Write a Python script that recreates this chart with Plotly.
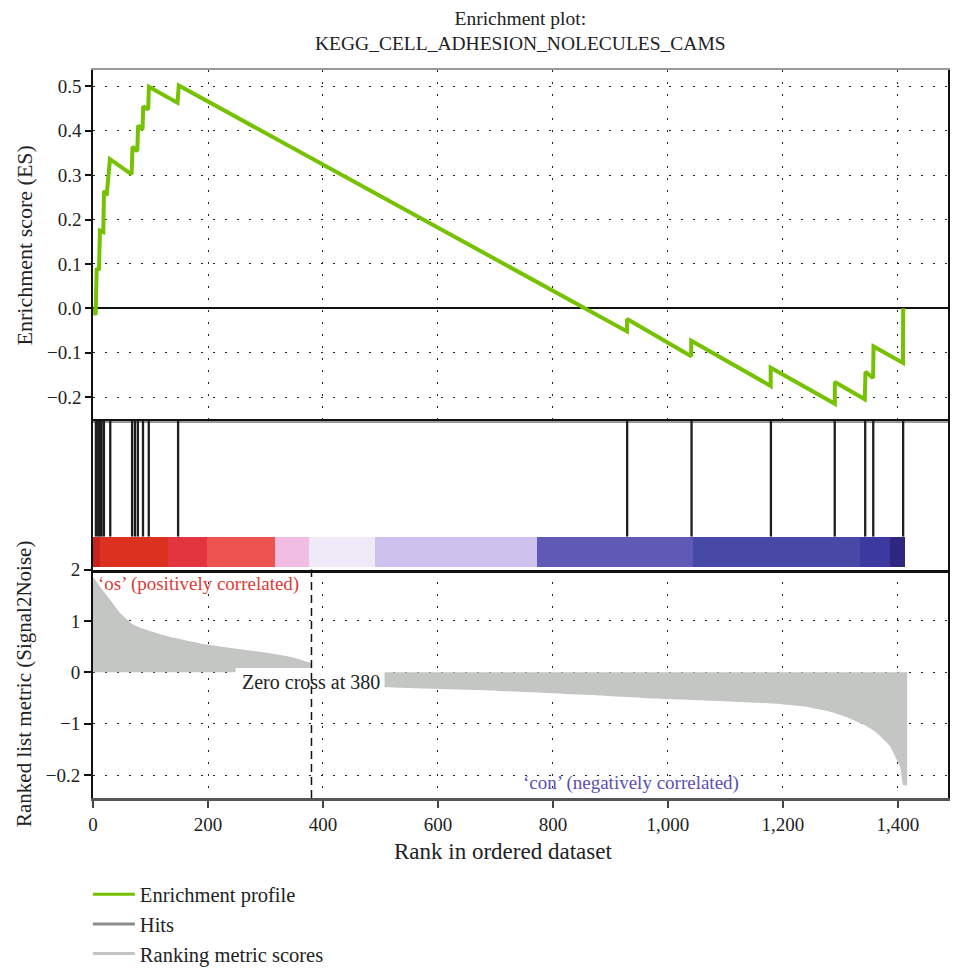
import plotly.graph_objects as go

# ---- data -------------------------------------------------------------
title_lines = ["Enrichment plot:", "KEGG_CELL_ADHESION_NOLECULES_CAMS"]

# running enrichment score profile (rank, ES) at each vertex of the step curve
es_rank = [0, 4.6, 6.4, 10.4, 12.1, 17.9, 19.1, 23.7, 29.5, 67.1, 68.8, 76.9, 78.6,
           86.2, 87.3, 96.0, 97.2, 146.9, 149.2,
           928.8, 928.8, 1040.4, 1040.4, 1178.6, 1178.6, 1290.2, 1290.2,
           1342.3, 1343.5, 1356.7, 1357.5, 1408.7, 1409]
es_value = [0.0, -0.015, 0.090, 0.086, 0.175, 0.172, 0.265, 0.254, 0.336, 0.302, 0.364, 0.354, 0.412,
            0.403, 0.455, 0.448, 0.499, 0.463, 0.502,
            -0.052, -0.024, -0.108, -0.073, -0.175, -0.134, -0.215, -0.166,
            -0.205, -0.143, -0.157, -0.086, -0.123, 0.0]

# positions of gene-set members in the ranked list
hit_ranks = [5, 9, 12, 15, 19, 30, 68, 73, 78, 87, 97, 148,
             929, 1041, 1179, 1290, 1343, 1357, 1409]

# ranked list metric (Signal2Noise)
pos_rank = [0, 2, 12, 30, 47, 59, 70, 82, 128, 198, 302, 348, 377, 380]
pos_metric = [1.84, 1.83, 1.67, 1.41, 1.16, 1.03, 0.93, 0.87, 0.71, 0.54, 0.38, 0.29, 0.19, 0.17]
neg_rank = [380, 420, 508, 706, 880, 995, 1100, 1150, 1198, 1240, 1284, 1310,
            1342, 1360, 1371, 1385, 1394, 1404, 1409, 1416]
neg_metric = [-0.05, -0.20, -0.29, -0.36, -0.45, -0.52, -0.565, -0.59, -0.62, -0.67, -0.77, -0.87,
              -1.03, -1.15, -1.26, -1.42, -1.61, -1.85, -2.19, -2.20]
zero_cross = 380

# heat strip under the hits
band_start = [0, 12, 131, 198, 317, 375, 490, 772, 1044, 1334, 1386]
band_end = [12, 131, 198, 317, 375, 490, 772, 1044, 1334, 1386, 1412]
band_color = ['#c5231b', '#dc311f', '#e3353f', '#ee5251', '#f1bde2', '#efeaf8',
              '#cfc1ee', '#5f5ab6', '#4848a6', '#3c39a0', '#2e2680']

rank_ticks = [0, 200, 400, 600, 800, 1000, 1200, 1400]
es_ticks = [-0.2, -0.1, 0.0, 0.1, 0.2, 0.3, 0.4, 0.5]
metric_ticks = [2, 1, 0, -1, -2]
metric_ticktext = ['2', '1', '0', '\u22121', '\u22120.2']

legend_names = ["Enrichment profile", "Hits", "Ranking metric scores"]
legend_colors = ['#74c000', '#8c8c8c', '#c4c4c4']

# ---- styling ----------------------------------------------------------
FONT = "Liberation Serif"
GREEN = '#76c101'
FILL = '#c4c6c4'
DOTS = '2px,10px'
XRANGE = [0, 1487]

fig = go.Figure()

# enrichment profile
fig.add_trace(go.Scatter(x=es_rank, y=es_value, mode='lines',
                         line=dict(color=GREEN, width=4),
                         xaxis='x2', yaxis='y2', showlegend=False, hoverinfo='skip'))

# hit marks
hx, hy = [], []
for r in hit_ranks:
    hx += [r, r, None]
    hy += [0, 1, None]
fig.add_trace(go.Scatter(x=hx, y=hy, mode='lines', line=dict(color='#1e1e1e', width=2.3),
                         xaxis='x3', yaxis='y3', showlegend=False, hoverinfo='skip'))

# colour strip
fig.add_trace(go.Bar(orientation='h', y=[0] * len(band_start),
                     x=[e - s for s, e in zip(band_start, band_end)], base=band_start,
                     width=1, marker=dict(color=band_color, line=dict(width=0)),
                     xaxis='x4', yaxis='y4', showlegend=False, hoverinfo='skip'))

# ranked metric area
fig.add_trace(go.Scatter(x=pos_rank, y=pos_metric, mode='lines', fill='tozeroy',
                         fillcolor=FILL, line=dict(width=0, color=FILL, shape='spline', smoothing=0.4),
                         xaxis='x', yaxis='y', showlegend=False, hoverinfo='skip'))
fig.add_trace(go.Scatter(x=neg_rank, y=neg_metric, mode='lines', fill='tozeroy',
                         fillcolor=FILL, line=dict(width=0, color=FILL, shape='spline', smoothing=0.4),
                         xaxis='x', yaxis='y', showlegend=False, hoverinfo='skip'))

# legend entries
for name, col in zip(legend_names, legend_colors):
    fig.add_trace(go.Scatter(x=[None], y=[None], mode='lines', name=name,
                             line=dict(color=col, width=3), xaxis='x', yaxis='y'))

tickfont = dict(family=FONT, size=19, color='#222')

common_x = dict(range=XRANGE, tickvals=rank_ticks, zeroline=False)

fig.update_layout(
    width=953, height=976,
    margin=dict(l=93, r=3, t=70, b=173),
    paper_bgcolor='white', plot_bgcolor='white',
    font=dict(family=FONT, size=19, color='#222'),
    bargap=0,
    xaxis=dict(**common_x, anchor='y', tickformat=',d', ticks='outside', ticklen=7,
               tickwidth=2, tickcolor='#444', showline=True, linecolor='#555', linewidth=2.5,
               showgrid=True, gridcolor='#222', gridwidth=1.2, griddash=DOTS,
               tickfont=tickfont),
    yaxis=dict(domain=[0, 0.31378], range=[-2.444, 2], tickvals=metric_ticks,
               ticktext=metric_ticktext, ticks='outside', ticklen=7, tickwidth=1.5,
               tickcolor='#111', showline=True, mirror=True, linecolor='#111', linewidth=2,
               showgrid=True, gridcolor='#222', gridwidth=1.2, griddash=DOTS, zeroline=False,
               tickfont=tickfont,
               title=dict(text='Ranked list metric (Signal2Noise)',
                          font=dict(family=FONT, size=21, color='#222'), standoff=8)),
    xaxis2=dict(**common_x, anchor='y2', showticklabels=False, ticks='',
                showline=True, mirror=True, linecolor='#999', linewidth=1.5,
                showgrid=True, gridcolor='#222', gridwidth=1.2, griddash=DOTS),
    yaxis2=dict(domain=[0.51842, 1], range=[-0.253, 0.537], tickvals=es_ticks,
                tickformat='.1f', ticks='outside', ticklen=6, tickwidth=1.5, tickcolor='#111',
                showline=True, mirror=True, linecolor='#111', linewidth=1.5,
                showgrid=True, gridcolor='#222', gridwidth=1.2, griddash=DOTS,
                zeroline=True, zerolinecolor='#111', zerolinewidth=2,
                tickfont=tickfont,
                title=dict(text='Enrichment score (ES)',
                           font=dict(family=FONT, size=22, color='#222'), standoff=8)),
    xaxis3=dict(**common_x, anchor='y3', side='top', showticklabels=False, ticks='',
                showgrid=False, showline=True, linecolor='#111', linewidth=2),
    yaxis3=dict(domain=[0.35880, 0.51842], range=[0, 1], showticklabels=False, ticks='',
                showgrid=False, zeroline=False, showline=True, mirror=True,
                linecolor='#111', linewidth=1.5),
    xaxis4=dict(**common_x, anchor='y4', side='bottom', showticklabels=False, ticks='',
                showgrid=False, showline=True, linecolor='#111', linewidth=2.5),
    yaxis4=dict(domain=[0.31378, 0.35880], range=[-0.6, 0.5], showticklabels=False,
                ticks='', showgrid=False, zeroline=False, showline=True, mirror=True,
                linecolor='#111', linewidth=1.5),
    legend=dict(x=-0.006, xanchor='left', y=-0.105, yanchor='top', orientation='v',
                font=dict(family=FONT, size=20.5, color='#222'), tracegroupgap=0,
                itemwidth=42, bgcolor='rgba(0,0,0,0)'),
    showlegend=True,
)

# label backing, zero-cross marker
fig.add_shape(type='rect', xref='x', yref='y', x0=zero_cross - 132, x1=zero_cross + 127,
              y0=-0.454, y1=0.087, fillcolor='white', line=dict(width=0), layer='above')
fig.add_shape(type='line', xref='x', yref='y domain', x0=zero_cross, x1=zero_cross,
              y0=0, y1=1, line=dict(color='#111', width=1.5, dash='8px,5px'), layer='above')

annotations = [
    dict(text="<br>".join(title_lines), xref='paper', yref='paper', x=0.5, y=1.0532,
         xanchor='center', yanchor='middle', showarrow=False, align='center',
         font=dict(family=FONT, size=19.5, color='#222')),
    dict(text=f"Zero cross at {zero_cross}", xref='x', yref='y', x=zero_cross, y=-0.18,
         xanchor='center', yanchor='middle', showarrow=False,
         font=dict(family=FONT, size=20, color='#222')),
    dict(text="\u2018os\u2019 (positively correlated)", xref='x', yref='y', x=0, y=2,
         xanchor='left', yanchor='top', xshift=3, yshift=-1, showarrow=False,
         font=dict(family=FONT, size=19, color='#dc3b37')),
    dict(text="\u2018con\u2019 (negatively correlated)", xref='paper', yref='y', x=0.5, y=-2.444,
         xanchor='left', yanchor='bottom', yshift=2, showarrow=False,
         font=dict(family=FONT, size=19, color='#5b50b4')),
    dict(text="Rank in ordered dataset", xref='paper', yref='paper', x=0.48, y=-0.0737,
         xanchor='center', yanchor='middle', showarrow=False,
         font=dict(family=FONT, size=23, color='#222')),
]
fig.update_layout(annotations=annotations)

fig.write_html("out.html")
